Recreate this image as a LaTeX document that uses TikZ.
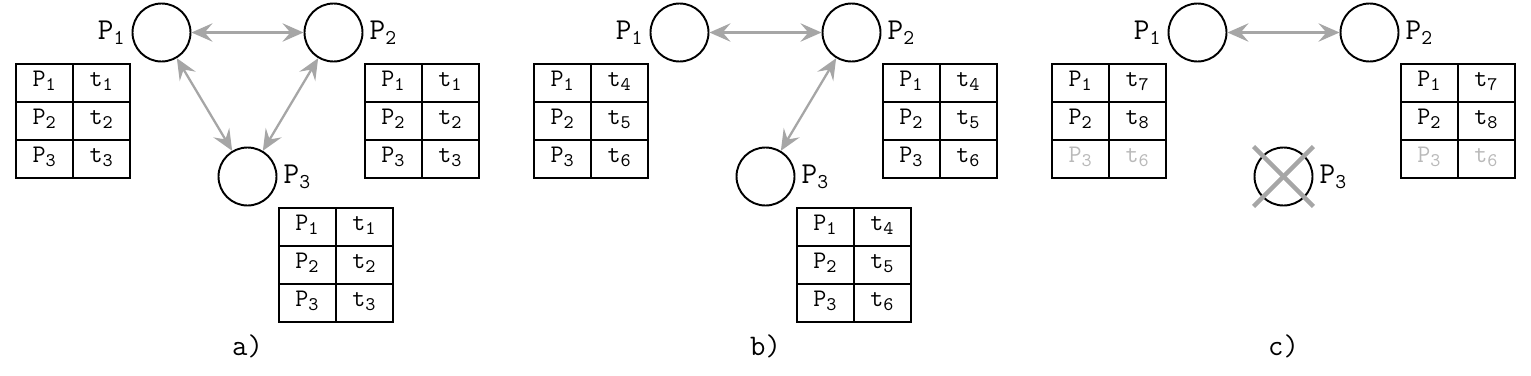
\documentclass[tikz,border=0pt]{standalone}
\usepackage{tikz}
\usetikzlibrary{arrows.meta,positioning,matrix,calc}

% table of known processes and times; #7 is the colour of the last row
\newcommand{\ptable}[7]{%
  \matrix[ptab, anchor=#2] (#1) at (#3) {
    $\mathtt{P_1}$ \& $\mathtt{t_{#4}}$ \\
    $\mathtt{P_2}$ \& $\mathtt{t_{#5}}$ \\
    |[text=#7]| $\mathtt{P_3}$ \& |[text=#7]| $\mathtt{t_{#6}}$ \\
  };}

\begin{document}
\begin{tikzpicture}[
proc/.style={circle, draw, line width=1.1pt, minimum size=1.16cm, inner sep=0pt, label distance=1pt},
lab/.style={font=\fontsize{17.5}{21}\selectfont},
ptab/.style={matrix of nodes, ampersand replacement=\&, inner sep=0pt,
  column sep=-1.1pt, row sep=-1.1pt,
  nodes={draw, line width=1.1pt, minimum width=1.14cm, minimum height=0.76cm, inner sep=0pt,
  anchor=center, text height=1.45ex, text depth=0.4ex, font=\fontsize{15}{18}\selectfont}},
>={Stealth[length=12pt, width=10.5pt, inset=4.5pt]},
link/.style={<->, draw=gray!70, line width=1.3pt},
strike/.style={draw=gray!70, line width=2.6pt},
caption/.style={font=\fontsize{17}{20}\selectfont\ttfamily}
]
\useasboundingbox (0,0) rectangle (30.62,-7.5);

% a) all three processes
\node[proc, label={[lab]left:$\mathtt{P_1}$}] (pa1) at (3.23,-0.65) {};
\node[proc, label={[lab]right:$\mathtt{P_2}$}] (pa2) at (6.67,-0.65) {};
\node[proc, label={[lab]right:$\mathtt{P_3}$}] (pa3) at (4.95,-3.53) {};
\draw[link] (pa1) -- (pa2);
\draw[link] (pa1) -- (pa3);
\draw[link] (pa2) -- (pa3);
\ptable{ta1}{north east}{pa1.west |- pa1.south}{1}{2}{3}{black}
\ptable{ta2}{north west}{pa2.east |- pa2.south}{1}{2}{3}{black}
\ptable{ta3}{north west}{pa3.east |- pa3.south}{1}{2}{3}{black}
\node[caption] (capa) at (pa3 |- 0,-6.92) {a)};

% b) P1 and P3 lose their link
\node[proc, label={[lab]left:$\mathtt{P_1}$}] (pb1) at (13.59,-0.65) {};
\node[proc, label={[lab]right:$\mathtt{P_2}$}] (pb2) at (17.03,-0.65) {};
\node[proc, label={[lab]right:$\mathtt{P_3}$}] (pb3) at (15.31,-3.53) {};
\draw[link] (pb1) -- (pb2);
\draw[link] (pb2) -- (pb3);
\ptable{tb1}{north east}{pb1.west |- pb1.south}{4}{5}{6}{black}
\ptable{tb2}{north west}{pb2.east |- pb2.south}{4}{5}{6}{black}
\ptable{tb3}{north west}{pb3.east |- pb3.south}{4}{5}{6}{black}
\node[caption] (capb) at (pb3 |- 0,-6.92) {b)};

% c) P3 has failed
\node[proc, label={[lab]left:$\mathtt{P_1}$}] (pc1) at (23.95,-0.65) {};
\node[proc, label={[lab]right:$\mathtt{P_2}$}] (pc2) at (27.39,-0.65) {};
\node[proc, label={[lab]right:$\mathtt{P_3}$}] (pc3) at (25.67,-3.53) {};
\draw[link] (pc1) -- (pc2);
\draw[strike] (pc3.west |- pc3.north) -- (pc3.east |- pc3.south);
\draw[strike] (pc3.west |- pc3.south) -- (pc3.east |- pc3.north);
\ptable{tc1}{north east}{pc1.west |- pc1.south}{7}{8}{6}{gray!55}
\ptable{tc2}{north west}{pc2.east |- pc2.south}{7}{8}{6}{gray!55}
\node[caption] (capc) at (pc3 |- 0,-6.92) {c)};
\end{tikzpicture}
\end{document}
